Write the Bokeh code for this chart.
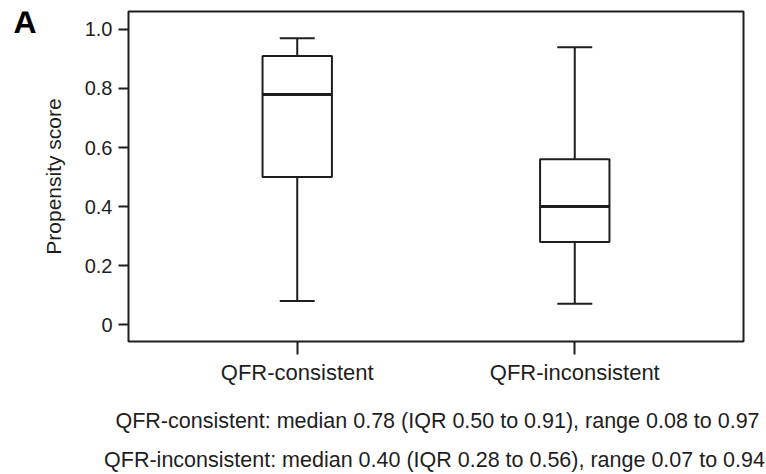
from bokeh.plotting import figure
from bokeh.layouts import column, row
from bokeh.models import Range1d, FixedTicker, CustomJSTickFormatter
from bokeh.core.properties import value
from bokeh.embed import file_html
from bokeh.resources import INLINE

# ---- data ----
groups = ["QFR-consistent", "QFR-inconsistent"]
positions = [1, 2]
medians = [0.78, 0.40]
q1 = [0.50, 0.28]
q3 = [0.91, 0.56]
lows = [0.08, 0.07]
highs = [0.97, 0.94]
y_ticks = [0, 0.2, 0.4, 0.6, 0.8, 1.0]
panel_letter = "A"
summary = [
    "QFR-consistent: median 0.78 (IQR 0.50 to 0.91), range 0.08 to 0.97",
    "QFR-inconsistent: median 0.40 (IQR  0.28 to 0.56), range 0.07 to 0.94",
]

FONT = "Liberation Sans"
INK = "#1e1e1e"
W, H = 766, 474
TOP_H = 395          # height of the plot row
A_W = 38             # width of the strip holding the panel letter
L, R, T = 127, 23, 11
B = TOP_H - 341
x0, x1 = 0.392, 2.608
y0, y1 = -0.0576, 1.061


def blank(width, height):
    f = figure(width=width, height=height, output_backend="svg", toolbar_location=None,
               x_axis_type=None, y_axis_type=None,
               x_range=Range1d(0, width), y_range=Range1d(0, height),
               min_border=0, min_border_left=0, min_border_right=0,
               min_border_top=0, min_border_bottom=0)
    f.outline_line_color = None
    f.background_fill_color = "white"
    f.border_fill_color = "white"
    f.xgrid.visible = False
    f.ygrid.visible = False
    return f


# ---- panel letter strip ----
fa = blank(A_W, TOP_H)
fa.text(x=[13], y=[TOP_H - 12.5], text=[panel_letter], text_font=value(FONT),
        text_font_style="bold", text_font_size="32px", text_color="black",
        text_baseline="middle", text_align="left")

# ---- main box plot ----
p = figure(width=W - A_W, height=TOP_H, output_backend="svg", toolbar_location=None,
           x_range=Range1d(x0, x1), y_range=Range1d(y0, y1),
           min_border_left=L - A_W, min_border_right=R, min_border_top=T,
           min_border_bottom=B)
p.background_fill_color = "white"
p.border_fill_color = "white"
p.outline_line_color = INK
p.outline_line_width = 2
p.xgrid.visible = False
p.ygrid.visible = False

bw = 0.25
cw = 0.126
left = [x - bw / 2 for x in positions]
right = [x + bw / 2 for x in positions]
cl = [x - cw / 2 for x in positions]
cr = [x + cw / 2 for x in positions]

p.segment(positions, q3, positions, highs, line_color=INK, line_width=2)
p.segment(positions, lows, positions, q1, line_color=INK, line_width=2)
p.segment(cl, highs, cr, highs, line_color=INK, line_width=2)
p.segment(cl, lows, cr, lows, line_color=INK, line_width=2)
p.quad(left=left, right=right, bottom=q1, top=q3, fill_color="white",
       line_color=INK, line_width=2)
p.segment(left, medians, right, medians, line_color=INK, line_width=3)

xa = p.xaxis[0]
xa.ticker = FixedTicker(ticks=positions)
xa.formatter = CustomJSTickFormatter(args=dict(names=groups),
                                     code="return names[Math.round(tick) - 1];")
xa.axis_line_color = None
xa.major_tick_line_color = INK
xa.major_tick_line_width = 2
xa.major_tick_out = 13
xa.major_tick_in = 0
xa.minor_tick_line_color = None
xa.major_label_standoff = 5
xa.major_label_text_font = FONT
xa.major_label_text_font_size = "22px"
xa.major_label_text_color = INK

ya = p.yaxis[0]
ya.ticker = FixedTicker(ticks=y_ticks)
ya.formatter = CustomJSTickFormatter(code="return tick == 0 ? '0' : tick.toFixed(1);")
ya.axis_line_color = None
ya.major_tick_line_color = INK
ya.major_tick_line_width = 2
ya.major_tick_out = 10
ya.major_tick_in = 0
ya.minor_tick_line_color = None
ya.major_label_standoff = 6
ya.major_label_text_font = FONT
ya.major_label_text_font_size = "20px"
ya.major_label_text_color = INK
ya.axis_label = "Propensity score"
ya.axis_label_text_font = FONT
ya.axis_label_text_font_style = "normal"
ya.axis_label_text_font_size = "21px"
ya.axis_label_text_color = INK
ya.axis_label_standoff = 17

# ---- summary lines ----
BOT_H = H - TOP_H
ft = blank(W, BOT_H)
ft.text(x=[437, 437], y=[BOT_H - (420 - TOP_H), BOT_H - (459.5 - TOP_H)], text=summary,
        text_font=value(FONT), text_font_size="21.5px", text_color=INK,
        text_baseline="middle", text_align="center")

layout = column(row(fa, p, spacing=0), ft, spacing=0)
open("out.html", "w").write(file_html(layout, INLINE))
